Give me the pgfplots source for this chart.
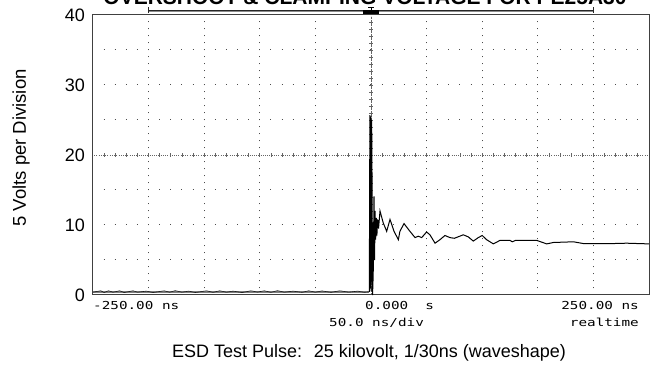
\documentclass[border=0pt]{standalone}
\usepackage{pgfplots}
\pgfplotsset{compat=1.18}
\usepackage{fontspec}
\setmainfont{Liberation Sans}
\newfontfamily\scopefont[FakeStretch=1.3]{DejaVu Sans Mono}
\begin{document}
\begin{tikzpicture}
\begin{axis}[
  at={(0,0)}, anchor=south west,
  scale only axis, width=556pt, height=280pt,
  xmin=-250, xmax=250, ymin=0, ymax=40,
  xtick=\empty, ytick={0,10,20,30,40},
  major tick length=0pt,
  axis line style={black!75, line width=1pt},
  yticklabel style={font=\fontsize{18}{18}\selectfont, inner sep=0pt, xshift=-8pt},
  /pgf/number format/assume math mode=true,
  clip=false,
]
% sparse dotted graticule rows
\pgfplotsinvokeforeach{5,10,15,25,30,35}{
  \draw[black!70, line width=1pt, dash pattern=on 1pt off 10.12pt] (axis cs:-240.45,#1) -- (axis cs:249,#1);
}
% sparse dotted graticule columns
\pgfplotsinvokeforeach{-200,-150,-100,-50,50,100,150,200}{
  \draw[black!70, line width=1pt, dash pattern=on 1pt off 6pt] (axis cs:#1,0.93) -- (axis cs:#1,39.5);
}
% dense centre row
\draw[black!60, line width=0.8pt, dash pattern=on 0.8pt off 1.42pt] (axis cs:-249,20) -- (axis cs:249,20);
\pgfplotsinvokeforeach{-240,-230,...,240}{
  \draw[black!60, line width=0.8pt] ([yshift=-2pt]axis cs:#1,20) -- ([yshift=2pt]axis cs:#1,20);
}
% dense centre column
\draw[black!60, line width=0.8pt, dash pattern=on 0.8pt off 0.6pt] (axis cs:0,0.2) -- (axis cs:0,39.8);
\pgfplotsinvokeforeach{1,2,...,39}{
  \draw[black!60, line width=0.8pt] ([xshift=-2pt]axis cs:0,#1) -- ([xshift=2pt]axis cs:0,#1);
}
% trigger / window bar above the screen
\draw[black!45, line width=0.8pt] ([yshift=3.8pt]axis cs:-200,40) -- ([yshift=3.8pt]axis cs:200,40);
\draw[black!85, line width=0.9pt] ([yshift=5pt]axis cs:-200,40) -- ([yshift=5pt]axis cs:200,40);
\draw[black!85, line width=0.9pt] ([yshift=2pt]axis cs:-200,40) -- ([yshift=8pt]axis cs:-200,40);
\draw[black!85, line width=0.9pt] ([yshift=2pt]axis cs:200,40) -- ([yshift=8pt]axis cs:200,40);
\fill[black] ([xshift=-8pt,yshift=1.2pt]axis cs:0,40) rectangle ([xshift=8pt,yshift=4.6pt]axis cs:0,40);
\draw[black, line width=0.9pt] ([yshift=4.6pt]axis cs:0,40) -- ([yshift=8pt]axis cs:0,40);
\draw[black, line width=0.9pt] ([xshift=-3pt,yshift=8pt]axis cs:0,40) -- ([xshift=3pt,yshift=8pt]axis cs:0,40);

% pre-trigger baseline
\addplot[black!50, line width=1.8pt] coordinates {
(-250,0.45) (-200,0.45) (-150,0.45) (-100,0.45) (-50,0.45) (-1.5,0.45)};
\addplot[black!90, line width=0.6pt] coordinates {
(-250,0.4) (-243,0.6) (-240,0.35) (-236,0.6) (-232,0.4) (-226,0.6) (-222,0.35)
(-214,0.6) (-210,0.4) (-202,0.55) (-196,0.35) (-186,0.6) (-181,0.4) (-176,0.62)
(-170,0.4) (-164,0.55) (-158,0.35) (-148,0.6) (-142,0.38) (-136,0.6) (-130,0.4)
(-124,0.55) (-116,0.35) (-108,0.6) (-102,0.42) (-96,0.6) (-90,0.38) (-84,0.62)
(-78,0.4) (-70,0.55) (-62,0.38) (-56,0.6) (-50,0.4) (-44,0.58) (-36,0.38)
(-28,0.6) (-20,0.4) (-12,0.55) (-6,0.38) (-1.5,0.45)};

% ESD pulse and ringing
\addplot[black, line width=1pt] coordinates {
(-1.5,0.45) (-1.0,25.7) (-0.6,1.0) (-0.2,25.5) (0.2,0.5) (0.6,25.0) (1.0,15.0)
(1.4,0.0) (2.0,3.0) (2.7,14.1) (3.2,5.0) (3.7,12.0) (4.2,7.9) (4.8,11.0)
(5.3,8.5) (6.0,10.8) (6.8,9.5) (8.1,12.0) (11,10.3) (14.1,9.1) (17.1,10.8)
(20.7,9.1) (24.6,7.9) (26,9.1) (29.7,10.2) (35,9.1) (39.6,8.2) (42.5,8.4)
(45.6,8.2) (50,9.0) (53,8.6) (57.6,7.4) (62,7.9) (66.5,8.5) (71,8.2)
(75,8.1) (83,8.6) (87.5,8.3) (92,7.7) (96.5,8.2) (100,8.5) (104,7.9)
(110,7.3) (116,7.8) (125,7.8) (127,7.6) (130,7.8) (149,7.8) (158,7.3)
(164,7.5) (182,7.6) (191,7.35) (218,7.35) (230,7.4) (250,7.3)};

% oscilloscope annotations
\node[anchor=base west, inner sep=0pt, font=\scopefont\fontsize{11}{11}\selectfont]
  at ([yshift=-15pt]axis cs:-250,0) {-250.00 ns};
\node[anchor=base west, inner sep=0pt, font=\scopefont\fontsize{11}{11}\selectfont]
  at ([xshift=-6pt,yshift=-15pt]axis cs:0,0) {0.000~~s};
\node[anchor=base east, inner sep=0pt, font=\scopefont\fontsize{11}{11}\selectfont]
  at ([xshift=-10pt,yshift=-15pt]axis cs:250,0) {250.00 ns};
\node[anchor=base west, inner sep=0pt, font=\scopefont\fontsize{11}{11}\selectfont]
  at ([xshift=-42pt,yshift=-32pt]axis cs:0,0) {50.0 ns/div};
\node[anchor=base east, inner sep=0pt, font=\scopefont\fontsize{11}{11}\selectfont]
  at ([xshift=-10pt,yshift=-32pt]axis cs:250,0) {realtime};

% caption, y label, title
\node[anchor=base, inner sep=0pt, font=\fontsize{18}{18}\selectfont]
  at ([xshift=-2pt,yshift=-63pt]axis cs:0,0) {ESD Test Pulse:~ 25 kilovolt, 1/30ns (waveshape)};
\node[rotate=90, inner sep=0pt, font=\fontsize{18.5}{18.5}\selectfont]
  at ([xshift=-72pt,yshift=7pt]axis cs:-250,20) {5 Volts per Division};
\node[anchor=base, inner sep=0pt, font=\bfseries\fontsize{21}{21}\selectfont]
  at ([xshift=-6pt,yshift=10pt]axis cs:0,40) {OVERSHOOT \& CLAMPING VOLTAGE FOR PE25A30};
\end{axis}
\pgfresetboundingbox
\path[use as bounding box] (-93pt,-71pt) rectangle (564pt,295pt);
\end{tikzpicture}
\end{document}
